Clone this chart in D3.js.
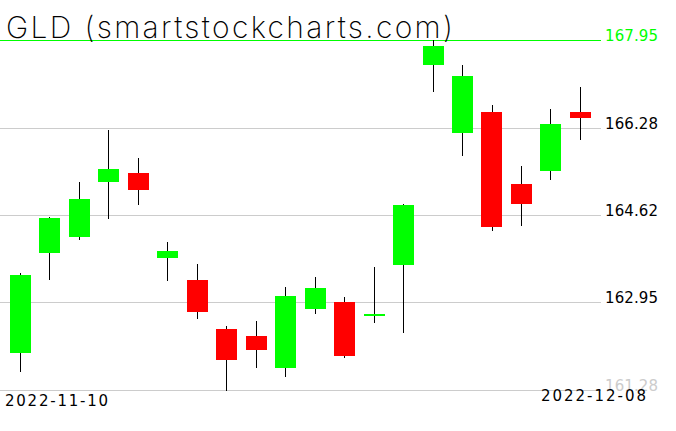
<!DOCTYPE html>
<html>
<head>
<meta charset="utf-8">
<script src="https://cdn.jsdelivr.net/npm/d3@7"></script>
<style>
  html, body { margin: 0; padding: 0; background: #fff; }
  svg { display: block; }
</style>
</head>
<body>
<svg id="chart" width="676" height="431"></svg>
<script>
const title = "GLD (smartstockcharts.com)";
const dates = ["2022-11-10","2022-11-11","2022-11-14","2022-11-15","2022-11-16","2022-11-17","2022-11-18",
  "2022-11-21","2022-11-22","2022-11-23","2022-11-25","2022-11-28","2022-11-29","2022-11-30",
  "2022-12-01","2022-12-02","2022-12-05","2022-12-06","2022-12-07","2022-12-08"];
const opens  = [161.99,163.90,164.19,165.25,165.42,163.79,163.38,162.44,162.31,161.69,162.83,162.95,162.70,163.67,167.47,166.17,166.57,165.21,165.46,166.58];
const highs  = [163.51,164.58,165.25,166.24,165.71,164.10,163.68,162.50,162.60,163.25,163.44,163.05,163.63,164.82,167.95,167.48,166.71,165.55,166.64,167.06];
const lows   = [161.65,163.40,164.15,164.55,164.82,163.38,162.66,161.28,161.71,161.55,162.75,161.90,162.58,162.39,166.97,165.75,164.32,164.43,165.31,166.06];
const closes = [163.47,164.56,164.92,165.50,165.10,163.93,162.77,161.86,162.05,163.07,163.23,161.92,162.73,164.81,167.84,167.27,164.38,164.83,166.34,166.46];
const yTicks = [161.28, 162.95, 164.62, 166.28, 167.95];
const yTickLabels = ["161.28","162.95","164.62","166.28","167.95"];
const xLabels = ["2022-11-10","2022-12-08"];

const candles = dates.map((d,i)=>({date:d, o:opens[i], h:highs[i], l:lows[i], c:closes[i]}));

const svg = d3.select("#chart");
const x = d3.scaleBand().domain(dates).range([5.77, 595.17]).paddingInner(0.285).paddingOuter(0.1425);
const y = d3.scaleLinear().domain([yTicks[0], yTicks[yTicks.length-1]]).range([390, 40]);
const ry = v => Math.round(y(v));

// gridlines
const tickColor = (i) => i === yTicks.length-1 ? "#00ff00" : "#cccccc";
svg.append("g").selectAll("line").data(yTicks).join("line")
  .attr("x1", 0).attr("x2", 601)
  .attr("y1", d => ry(d)+0.5).attr("y2", d => ry(d)+0.5)
  .attr("stroke", (d,i)=>tickColor(i)).attr("stroke-width", 1)
  .attr("shape-rendering","crispEdges");

// tick labels
const labelColor = (i) => i === yTicks.length-1 ? "#00ff00" : (i === 0 ? "#cccccc" : "#000000");
svg.append("g").selectAll("text").data(yTicks).join("text")
  .attr("x", 605).attr("y", d => ry(d)+1)
  .attr("fill", (d,i)=>labelColor(i))
  .attr("font-family","DejaVu Sans").attr("font-size", 15)
  .attr("textLength", 53).attr("lengthAdjust","spacing")
  .text((d,i)=>yTickLabels[i]);

// title
svg.append("text").attr("x", 6).attr("y", 38)
  .attr("font-family","Inter, Lato, Roboto, 'DejaVu Sans'").attr("font-weight", 200).attr("font-size", 30)
  .attr("fill","#000").attr("textLength", 447).attr("lengthAdjust","spacing")
  .text(title);

// wicks
const cx = d => Math.floor(x(d.date) + x.bandwidth()/2) + 0.5;
svg.append("g").selectAll("line").data(candles).join("line")
  .attr("x1", cx).attr("x2", cx)
  .attr("y1", d => ry(d.h)).attr("y2", d => ry(d.l)+1)
  .attr("stroke","#000").attr("stroke-width",1)
  .attr("shape-rendering","crispEdges");

// bodies
svg.append("g").selectAll("rect").data(candles).join("rect")
  .attr("x", d => Math.round(x(d.date)))
  .attr("width", Math.round(x.bandwidth()))
  .attr("y", d => ry(Math.max(d.o,d.c)))
  .attr("height", d => Math.max(2, ry(Math.min(d.o,d.c)) - ry(Math.max(d.o,d.c))))
  .attr("fill", d => d.c >= d.o ? "#00ff00" : "#ff0000")
  .attr("shape-rendering","crispEdges");

// x labels
svg.append("text").attr("x", 5).attr("y", 406)
  .attr("font-family","DejaVu Sans").attr("font-size", 15).attr("fill","#000")
  .attr("textLength", 103).attr("lengthAdjust","spacing")
  .text(xLabels[0]);
svg.append("text").attr("x", 541).attr("y", 401)
  .attr("font-family","DejaVu Sans").attr("font-size", 15).attr("fill","#000")
  .attr("textLength", 105).attr("lengthAdjust","spacing")
  .text(xLabels[1]);
</script>
</body>
</html>
